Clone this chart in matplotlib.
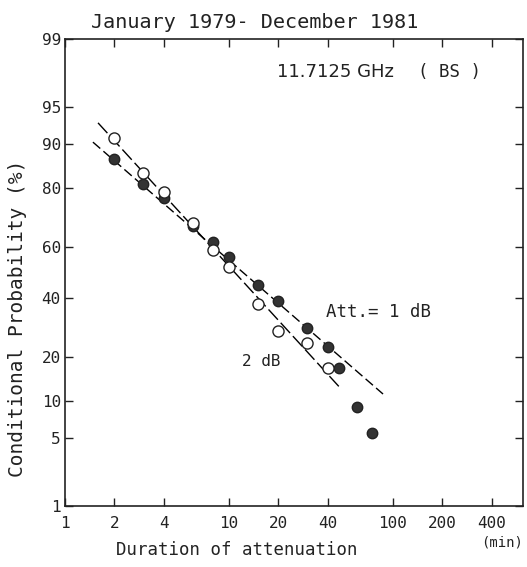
import numpy as np
import matplotlib
matplotlib.use("Agg")
import matplotlib.pyplot as plt
from matplotlib.ticker import NullLocator
from statistics import NormalDist

plt.rcParams['font.family'] = ['DejaVu Sans Mono', 'DejaVu Sans']

# data
dur_1db = [2, 3, 4, 6, 8, 10, 15, 20, 30, 40, 47, 60, 75]
prob_1db = [87, 81, 77, 68, 62, 56, 45, 39, 29, 23, 17, 9, 5.5]
dur_2db = [2, 3, 4, 6, 8, 10, 15, 20, 30, 40]
prob_2db = [91, 84, 79, 69, 59, 52, 37.5, 28, 24, 17]

# fitted lines (end points)
fit_1db_x = [1.48, 87]
fit_1db_y = [90.3, 11.3]
fit_2db_x = [1.59, 48]
fit_2db_y = [93.2, 12.4]

xticks = [1, 2, 4, 10, 20, 40, 100, 200, 400]
yticks = [1, 5, 10, 20, 40, 60, 80, 90, 95, 99]

_nd = NormalDist()


def prob_fwd(p):
    p = np.clip(np.asarray(p, dtype=float), 1e-9, 100 - 1e-9)
    return np.vectorize(lambda v: _nd.inv_cdf(v / 100.0), otypes=[float])(p)


def prob_inv(z):
    z = np.asarray(z, dtype=float)
    return np.vectorize(lambda v: 100.0 * _nd.cdf(v), otypes=[float])(z)


W, H = 527, 567
fig = plt.figure(figsize=(W / 100, H / 100), dpi=100)
ax = fig.add_axes([65 / W, 1 - 506 / H, 458 / W, 467 / H])

ax.set_xscale('log')
ax.set_yscale('function', functions=(prob_fwd, prob_inv))

ax.plot(fit_1db_x, fit_1db_y, color='black', lw=1.0, dashes=(7, 3), zorder=2)
ax.plot(fit_2db_x, fit_2db_y, color='black', lw=1.0, dashes=(10, 3), zorder=2)

ax.plot(dur_1db, prob_1db, 'o', ms=7.5, mfc='#333333', mec='#222222', zorder=3)
ax.plot(dur_2db, prob_2db, 'o', ms=8, mfc='white', mec='#222222', mew=1.0, zorder=4)

ax.set_xlim(1, 621)
ax.set_ylim(1, 99)
ax.set_xticks(xticks)
ax.set_xticklabels([str(v) for v in xticks])
ax.set_yticks(yticks)
ax.set_yticklabels([str(v) for v in yticks])
ax.xaxis.set_minor_locator(NullLocator())
ax.yaxis.set_minor_locator(NullLocator())
ax.tick_params(direction='in', length=6, width=1.0, top=True, right=True,
               labelsize=11.5, colors='#222222')
ax.tick_params(axis='x', pad=7)
ax.tick_params(axis='y', pad=3)
for s in ax.spines.values():
    s.set_linewidth(1.2)
    s.set_color('#222222')


def px_text(x, y, s, **kw):
    kw.setdefault('color', '#222222')
    kw.setdefault('va', 'center')
    fig.text(x / W, 1 - y / H, s, **kw)


px_text(277, 72, '11.7125 GHz', ha='left', fontsize=13, family=['DejaVu Sans'])
px_text(418, 72, '( BS )', ha='left', fontsize=12.5)
px_text(326, 312, 'Att.= 1 dB', ha='left', fontsize=12.5)
px_text(242, 361, '2 dB', ha='left', fontsize=11.5)

px_text(255, 22, 'January 1979- December 1981', ha='center', fontsize=14.5)
px_text(237, 550, 'Duration of attenuation', ha='center', fontsize=12.5)
px_text(502, 543, '(min)', ha='center', fontsize=10)
px_text(18, 318, 'Conditional Probability (%)', ha='center', rotation=90, fontsize=14)

fig.savefig('out.png', dpi=100)
